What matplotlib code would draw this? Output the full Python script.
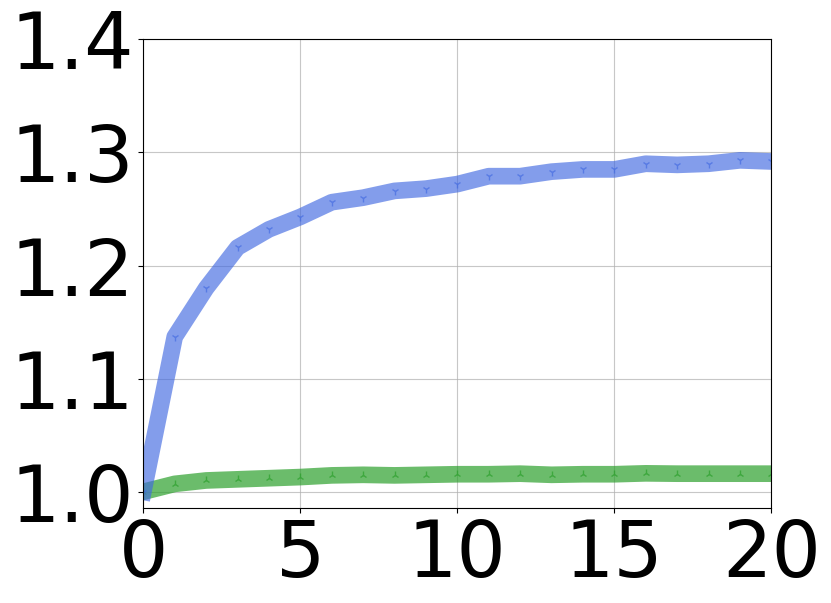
import matplotlib
matplotlib.use("Agg")
from matplotlib import pyplot as plt

# data
steps = list(range(21))
blue_ratio = [1.000, 1.137, 1.180, 1.216, 1.232, 1.243, 1.256, 1.260, 1.266, 1.268,
              1.272, 1.279, 1.279, 1.283, 1.285, 1.285, 1.290, 1.289, 1.290, 1.293, 1.292]
green_ratio = [1.000, 1.007, 1.010, 1.011, 1.012, 1.013, 1.0145, 1.015, 1.0145, 1.015,
               1.0155, 1.0155, 1.016, 1.015, 1.0155, 1.0155, 1.0163, 1.016, 1.016, 1.016, 1.016]
x_ticks = [0, 5, 10, 15, 20]
y_ticks = [1.0, 1.1, 1.2, 1.3, 1.4]

fig = plt.figure(figsize=(8.31, 6.03), dpi=100)
ax = fig.add_axes([0.1725, 0.158, 0.7557, 0.7768])

ax.plot(steps, green_ratio, color="tab:green", alpha=0.7, linewidth=12,
        marker="2", markersize=6)
ax.plot(steps, blue_ratio, color="royalblue", alpha=0.65, linewidth=12,
        marker="1", markersize=6)

ax.set_xlim(0, 20)
ax.set_ylim(0.9859, 1.4)
ax.set_xticks(x_ticks)
ax.set_yticks(y_ticks)
ax.set_xticklabels([str(t) for t in x_ticks])
ax.set_yticklabels([f"{t:.1f}" for t in y_ticks])
ax.tick_params(labelsize=56)
ax.grid(True, color="#b0b0b0", alpha=0.7, linewidth=0.8)

fig.savefig("out.png", dpi=100)
